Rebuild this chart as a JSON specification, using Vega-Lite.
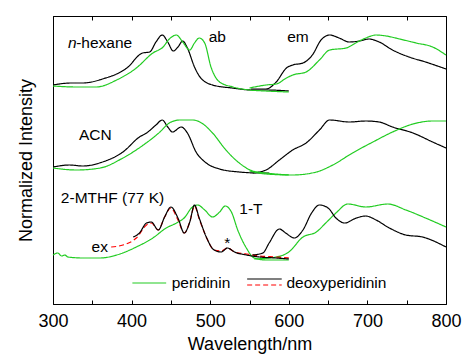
{
  "$schema": "https://vega.github.io/schema/vega-lite/v6.json",
  "width": 393,
  "height": 288,
  "autosize": "none",
  "padding": {"left": 53, "top": 16, "right": 19, "bottom": 51},
  "config": {
    "view": {"stroke": "#000", "strokeWidth": 1},
    "font": "Liberation Sans",
    "axis": {"labelFont": "Liberation Sans", "titleFont": "Liberation Sans", "labelFontSize": 18, "titleFontSize": 18, "titleFontWeight": "normal", "labelColor": "#000", "titleColor": "#000", "domainColor": "#000", "tickColor": "#000", "grid": false}
  },
  "datasets": {
    "curves": [
      {"s":"hex_ab_d","k":"deoxy","x":300,"y":220},{"s":"hex_ab_d","k":"deoxy","x":323,"y":222},{"s":"hex_ab_d","k":"deoxy","x":338,"y":222},{"s":"hex_ab_d","k":"deoxy","x":363,"y":226},{"s":"hex_ab_d","k":"deoxy","x":394,"y":237},{"s":"hex_ab_d","k":"deoxy","x":414,"y":252},{"s":"hex_ab_d","k":"deoxy","x":423,"y":253},{"s":"hex_ab_d","k":"deoxy","x":431,"y":263},{"s":"hex_ab_d","k":"deoxy","x":439,"y":270},{"s":"hex_ab_d","k":"deoxy","x":446,"y":263},{"s":"hex_ab_d","k":"deoxy","x":453,"y":254},{"s":"hex_ab_d","k":"deoxy","x":459,"y":258},{"s":"hex_ab_d","k":"deoxy","x":465,"y":264},{"s":"hex_ab_d","k":"deoxy","x":471,"y":257},{"s":"hex_ab_d","k":"deoxy","x":480,"y":238},{"s":"hex_ab_d","k":"deoxy","x":488,"y":227},{"s":"hex_ab_d","k":"deoxy","x":503,"y":220},{"s":"hex_ab_d","k":"deoxy","x":528,"y":217},{"s":"hex_ab_d","k":"deoxy","x":554,"y":215},{"s":"hex_ab_d","k":"deoxy","x":571,"y":215},{"s":"hex_ab_d","k":"deoxy","x":600,"y":214},
      {"s":"hex_ab_p","k":"per","x":300,"y":219},{"s":"hex_ab_p","k":"per","x":330,"y":218},{"s":"hex_ab_p","k":"per","x":355,"y":218},{"s":"hex_ab_p","k":"per","x":381,"y":225},{"s":"hex_ab_p","k":"per","x":406,"y":237},{"s":"hex_ab_p","k":"per","x":427,"y":252},{"s":"hex_ab_p","k":"per","x":440,"y":258},{"s":"hex_ab_p","k":"per","x":448,"y":266},{"s":"hex_ab_p","k":"per","x":457,"y":270},{"s":"hex_ab_p","k":"per","x":465,"y":263},{"s":"hex_ab_p","k":"per","x":474,"y":255},{"s":"hex_ab_p","k":"per","x":480,"y":262},{"s":"hex_ab_p","k":"per","x":486,"y":267},{"s":"hex_ab_p","k":"per","x":493,"y":262},{"s":"hex_ab_p","k":"per","x":501,"y":238},{"s":"hex_ab_p","k":"per","x":512,"y":223},{"s":"hex_ab_p","k":"per","x":529,"y":218},{"s":"hex_ab_p","k":"per","x":550,"y":215},{"s":"hex_ab_p","k":"per","x":571,"y":214},{"s":"hex_ab_p","k":"per","x":600,"y":213},
      {"s":"hex_em_d","k":"deoxy","x":552,"y":216},{"s":"hex_em_d","k":"deoxy","x":571,"y":216},{"s":"hex_em_d","k":"deoxy","x":584,"y":223},{"s":"hex_em_d","k":"deoxy","x":597,"y":237},{"s":"hex_em_d","k":"deoxy","x":605,"y":240},{"s":"hex_em_d","k":"deoxy","x":618,"y":242},{"s":"hex_em_d","k":"deoxy","x":630,"y":250},{"s":"hex_em_d","k":"deoxy","x":641,"y":265},{"s":"hex_em_d","k":"deoxy","x":652,"y":270},{"s":"hex_em_d","k":"deoxy","x":664,"y":267},{"s":"hex_em_d","k":"deoxy","x":677,"y":263},{"s":"hex_em_d","k":"deoxy","x":690,"y":264},{"s":"hex_em_d","k":"deoxy","x":702,"y":266},{"s":"hex_em_d","k":"deoxy","x":715,"y":263},{"s":"hex_em_d","k":"deoxy","x":732,"y":255},{"s":"hex_em_d","k":"deoxy","x":753,"y":248},{"s":"hex_em_d","k":"deoxy","x":774,"y":243},{"s":"hex_em_d","k":"deoxy","x":800,"y":236},
      {"s":"hex_em_p","k":"per","x":550,"y":217},{"s":"hex_em_p","k":"per","x":571,"y":220},{"s":"hex_em_p","k":"per","x":584,"y":221},{"s":"hex_em_p","k":"per","x":597,"y":227},{"s":"hex_em_p","k":"per","x":605,"y":230},{"s":"hex_em_p","k":"per","x":622,"y":233},{"s":"hex_em_p","k":"per","x":639,"y":245},{"s":"hex_em_p","k":"per","x":652,"y":255},{"s":"hex_em_p","k":"per","x":673,"y":257},{"s":"hex_em_p","k":"per","x":685,"y":262},{"s":"hex_em_p","k":"per","x":698,"y":267},{"s":"hex_em_p","k":"per","x":711,"y":270},{"s":"hex_em_p","k":"per","x":724,"y":269},{"s":"hex_em_p","k":"per","x":741,"y":266},{"s":"hex_em_p","k":"per","x":762,"y":262},{"s":"hex_em_p","k":"per","x":783,"y":258},{"s":"hex_em_p","k":"per","x":800,"y":250},
      {"s":"acn_ab_d","k":"deoxy","x":300,"y":138},{"s":"acn_ab_d","k":"deoxy","x":321,"y":140},{"s":"acn_ab_d","k":"deoxy","x":338,"y":139},{"s":"acn_ab_d","k":"deoxy","x":363,"y":143},{"s":"acn_ab_d","k":"deoxy","x":389,"y":153},{"s":"acn_ab_d","k":"deoxy","x":410,"y":168},{"s":"acn_ab_d","k":"deoxy","x":419,"y":172},{"s":"acn_ab_d","k":"deoxy","x":431,"y":180},{"s":"acn_ab_d","k":"deoxy","x":439,"y":185},{"s":"acn_ab_d","k":"deoxy","x":446,"y":178},{"s":"acn_ab_d","k":"deoxy","x":452,"y":173},{"s":"acn_ab_d","k":"deoxy","x":463,"y":178},{"s":"acn_ab_d","k":"deoxy","x":471,"y":172},{"s":"acn_ab_d","k":"deoxy","x":482,"y":153},{"s":"acn_ab_d","k":"deoxy","x":495,"y":142},{"s":"acn_ab_d","k":"deoxy","x":512,"y":136},{"s":"acn_ab_d","k":"deoxy","x":537,"y":133},{"s":"acn_ab_d","k":"deoxy","x":563,"y":132},{"s":"acn_ab_d","k":"deoxy","x":575,"y":132},
      {"s":"acn_em_d","k":"deoxy","x":554,"y":132},{"s":"acn_em_d","k":"deoxy","x":571,"y":135},{"s":"acn_em_d","k":"deoxy","x":588,"y":145},{"s":"acn_em_d","k":"deoxy","x":605,"y":155},{"s":"acn_em_d","k":"deoxy","x":622,"y":162},{"s":"acn_em_d","k":"deoxy","x":639,"y":175},{"s":"acn_em_d","k":"deoxy","x":652,"y":185},{"s":"acn_em_d","k":"deoxy","x":677,"y":183},{"s":"acn_em_d","k":"deoxy","x":698,"y":184},{"s":"acn_em_d","k":"deoxy","x":715,"y":183},{"s":"acn_em_d","k":"deoxy","x":732,"y":178},{"s":"acn_em_d","k":"deoxy","x":758,"y":172},{"s":"acn_em_d","k":"deoxy","x":783,"y":163},{"s":"acn_em_d","k":"deoxy","x":800,"y":157},
      {"s":"acn_ab_p","k":"per","x":300,"y":137},{"s":"acn_ab_p","k":"per","x":330,"y":135},{"s":"acn_ab_p","k":"per","x":360,"y":137},{"s":"acn_ab_p","k":"per","x":389,"y":147},{"s":"acn_ab_p","k":"per","x":415,"y":160},{"s":"acn_ab_p","k":"per","x":436,"y":173},{"s":"acn_ab_p","k":"per","x":448,"y":182},{"s":"acn_ab_p","k":"per","x":461,"y":185},{"s":"acn_ab_p","k":"per","x":478,"y":185},{"s":"acn_ab_p","k":"per","x":489,"y":182},{"s":"acn_ab_p","k":"per","x":503,"y":172},{"s":"acn_ab_p","k":"per","x":520,"y":155},{"s":"acn_ab_p","k":"per","x":537,"y":142},{"s":"acn_ab_p","k":"per","x":554,"y":134},{"s":"acn_ab_p","k":"per","x":571,"y":132},{"s":"acn_ab_p","k":"per","x":600,"y":130},
      {"s":"acn_em_p","k":"per","x":550,"y":134},{"s":"acn_em_p","k":"per","x":571,"y":131},{"s":"acn_em_p","k":"per","x":605,"y":130},{"s":"acn_em_p","k":"per","x":635,"y":133},{"s":"acn_em_p","k":"per","x":656,"y":140},{"s":"acn_em_p","k":"per","x":681,"y":152},{"s":"acn_em_p","k":"per","x":707,"y":163},{"s":"acn_em_p","k":"per","x":732,"y":173},{"s":"acn_em_p","k":"per","x":758,"y":181},{"s":"acn_em_p","k":"per","x":783,"y":184},{"s":"acn_em_p","k":"per","x":800,"y":184},
      {"s":"mt_ab_p","k":"per","x":300,"y":50},{"s":"mt_ab_p","k":"per","x":306,"y":52},{"s":"mt_ab_p","k":"per","x":311,"y":49},{"s":"mt_ab_p","k":"per","x":315,"y":50},{"s":"mt_ab_p","k":"per","x":319,"y":48},{"s":"mt_ab_p","k":"per","x":338,"y":47},{"s":"mt_ab_p","k":"per","x":360,"y":47},{"s":"mt_ab_p","k":"per","x":381,"y":50},{"s":"mt_ab_p","k":"per","x":406,"y":58},{"s":"mt_ab_p","k":"per","x":427,"y":67},{"s":"mt_ab_p","k":"per","x":444,"y":77},{"s":"mt_ab_p","k":"per","x":457,"y":82},{"s":"mt_ab_p","k":"per","x":468,"y":88},{"s":"mt_ab_p","k":"per","x":476,"y":97},{"s":"mt_ab_p","k":"per","x":484,"y":100},{"s":"mt_ab_p","k":"per","x":493,"y":95},{"s":"mt_ab_p","k":"per","x":503,"y":88},{"s":"mt_ab_p","k":"per","x":512,"y":93},{"s":"mt_ab_p","k":"per","x":519,"y":99},{"s":"mt_ab_p","k":"per","x":527,"y":93},{"s":"mt_ab_p","k":"per","x":535,"y":75},{"s":"mt_ab_p","k":"per","x":546,"y":57},{"s":"mt_ab_p","k":"per","x":556,"y":47},{"s":"mt_ab_p","k":"per","x":571,"y":45},{"s":"mt_ab_p","k":"per","x":600,"y":45},
      {"s":"mt_em_p","k":"per","x":556,"y":46},{"s":"mt_em_p","k":"per","x":584,"y":48},{"s":"mt_em_p","k":"per","x":600,"y":53},{"s":"mt_em_p","k":"per","x":618,"y":68},{"s":"mt_em_p","k":"per","x":635,"y":73},{"s":"mt_em_p","k":"per","x":647,"y":82},{"s":"mt_em_p","k":"per","x":660,"y":92},{"s":"mt_em_p","k":"per","x":675,"y":101},{"s":"mt_em_p","k":"per","x":698,"y":98},{"s":"mt_em_p","k":"per","x":726,"y":101},{"s":"mt_em_p","k":"per","x":749,"y":95},{"s":"mt_em_p","k":"per","x":774,"y":87},{"s":"mt_em_p","k":"per","x":800,"y":78},
      {"s":"mt_ex","k":"ex","x":374,"y":58},{"s":"mt_ex","k":"ex","x":389,"y":60},{"s":"mt_ex","k":"ex","x":406,"y":67},{"s":"mt_ex","k":"ex","x":419,"y":80},{"s":"mt_ex","k":"ex","x":425,"y":82},{"s":"mt_ex","k":"ex","x":434,"y":75},{"s":"mt_ex","k":"ex","x":442,"y":88},{"s":"mt_ex","k":"ex","x":450,"y":97},{"s":"mt_ex","k":"ex","x":459,"y":85},{"s":"mt_ex","k":"ex","x":467,"y":72},{"s":"mt_ex","k":"ex","x":474,"y":83},{"s":"mt_ex","k":"ex","x":480,"y":99},{"s":"mt_ex","k":"ex","x":486,"y":86},{"s":"mt_ex","k":"ex","x":495,"y":68},{"s":"mt_ex","k":"ex","x":505,"y":55},{"s":"mt_ex","k":"ex","x":514,"y":54},{"s":"mt_ex","k":"ex","x":522,"y":57},{"s":"mt_ex","k":"ex","x":531,"y":53},{"s":"mt_ex","k":"ex","x":546,"y":51},{"s":"mt_ex","k":"ex","x":563,"y":49},{"s":"mt_ex","k":"ex","x":584,"y":48},{"s":"mt_ex","k":"ex","x":600,"y":47},
      {"s":"mt_ab_d","k":"deoxy","x":402,"y":68},{"s":"mt_ab_d","k":"deoxy","x":410,"y":72},{"s":"mt_ab_d","k":"deoxy","x":419,"y":82},{"s":"mt_ab_d","k":"deoxy","x":425,"y":83},{"s":"mt_ab_d","k":"deoxy","x":434,"y":75},{"s":"mt_ab_d","k":"deoxy","x":442,"y":88},{"s":"mt_ab_d","k":"deoxy","x":450,"y":98},{"s":"mt_ab_d","k":"deoxy","x":459,"y":87},{"s":"mt_ab_d","k":"deoxy","x":467,"y":72},{"s":"mt_ab_d","k":"deoxy","x":474,"y":83},{"s":"mt_ab_d","k":"deoxy","x":480,"y":100},{"s":"mt_ab_d","k":"deoxy","x":486,"y":87},{"s":"mt_ab_d","k":"deoxy","x":495,"y":68},{"s":"mt_ab_d","k":"deoxy","x":505,"y":55},{"s":"mt_ab_d","k":"deoxy","x":514,"y":53},{"s":"mt_ab_d","k":"deoxy","x":522,"y":57},{"s":"mt_ab_d","k":"deoxy","x":531,"y":53},{"s":"mt_ab_d","k":"deoxy","x":546,"y":50},{"s":"mt_ab_d","k":"deoxy","x":563,"y":48},{"s":"mt_ab_d","k":"deoxy","x":584,"y":47},{"s":"mt_ab_d","k":"deoxy","x":600,"y":46},
      {"s":"mt_em_d","k":"deoxy","x":554,"y":50},{"s":"mt_em_d","k":"deoxy","x":567,"y":52},{"s":"mt_em_d","k":"deoxy","x":575,"y":62},{"s":"mt_em_d","k":"deoxy","x":588,"y":76},{"s":"mt_em_d","k":"deoxy","x":596,"y":72},{"s":"mt_em_d","k":"deoxy","x":607,"y":67},{"s":"mt_em_d","k":"deoxy","x":618,"y":75},{"s":"mt_em_d","k":"deoxy","x":629,"y":92},{"s":"mt_em_d","k":"deoxy","x":639,"y":100},{"s":"mt_em_d","k":"deoxy","x":650,"y":97},{"s":"mt_em_d","k":"deoxy","x":660,"y":87},{"s":"mt_em_d","k":"deoxy","x":671,"y":82},{"s":"mt_em_d","k":"deoxy","x":686,"y":87},{"s":"mt_em_d","k":"deoxy","x":698,"y":89},{"s":"mt_em_d","k":"deoxy","x":711,"y":85},{"s":"mt_em_d","k":"deoxy","x":728,"y":77},{"s":"mt_em_d","k":"deoxy","x":749,"y":70},{"s":"mt_em_d","k":"deoxy","x":770,"y":68},{"s":"mt_em_d","k":"deoxy","x":800,"y":58},
      {"s":"leg_p","k":"per","x":401,"y":22},{"s":"leg_p","k":"per","x":444,"y":22},
      {"s":"leg_d","k":"deoxy","x":547,"y":26},{"s":"leg_d","k":"deoxy","x":591,"y":26},
      {"s":"leg_e","k":"ex","x":547,"y":20},{"s":"leg_e","k":"ex","x":591,"y":20}
    ],
    "notes": [
      {"x":319,"y":262,"t":"n","i":1},
      {"x":329.5,"y":262,"t":"-hexane","i":0},
      {"x":498,"y":268,"t":"ab","i":0},
      {"x":598,"y":268,"t":"em","i":0},
      {"x":333,"y":170,"t":"ACN","i":0},
      {"x":310,"y":107,"t":"2-MTHF (77 K)","i":0},
      {"x":537,"y":96,"t":"1-T","i":0},
      {"x":349,"y":58,"t":"ex","i":0},
      {"x":518,"y":62,"t":"*","i":0},
      {"x":451,"y":22,"t":"peridinin","i":0},
      {"x":597,"y":22,"t":"deoxyperidinin","i":0}
    ]
  },
  "layer": [
    {
      "data": {"name": "curves"},
      "mark": {"type": "line", "interpolate": "monotone", "strokeWidth": 1.2},
      "encoding": {
        "x": {"field": "x", "type": "quantitative", "scale": {"domain": [300, 800], "nice": false},
              "axis": {"orient": "bottom", "title": "Wavelength/nm", "values": [300,350,400,450,500,550,600,650,700,750,800], "tickSize": -4, "labelExpr": "datum.value % 100 == 0 ? datum.label : ''", "labelPadding": 12, "titlePadding": 5, "labelFlush": false, "labelOverlap": false}},
        "y": {"field": "y", "type": "quantitative", "scale": {"domain": [1, 289], "nice": false},
              "axis": {"title": "Normalized Intensity", "labels": false, "ticks": false, "titlePadding": 18}},
        "detail": {"field": "s"},
        "color": {"field": "k", "type": "nominal", "scale": {"domain": ["per", "deoxy", "ex"], "range": ["#22cc22", "#000000", "#ff0000"]}, "legend": null},
        "strokeDash": {"field": "k", "type": "nominal", "scale": {"domain": ["per", "deoxy", "ex"], "range": [[1, 0], [1, 0], [5, 3]]}, "legend": null}
      }
    },
    {
      "data": {"name": "notes"},
      "transform": [{"filter": "datum.i == 0"}],
      "mark": {"type": "text", "align": "left", "baseline": "middle", "fontSize": 15.5, "font": "Liberation Sans", "color": "#000"},
      "encoding": {
        "x": {"field": "x", "type": "quantitative", "scale": {"domain": [300, 800], "nice": false},
              "axis": {"orient": "top", "title": null, "labels": false, "values": [300,350,400,450,500,550,600,650,700,750,800], "tickSize": -4}},
        "y": {"field": "y", "type": "quantitative", "scale": {"domain": [1, 289], "nice": false},
              "axis": {"title": "Normalized Intensity", "labels": false, "ticks": false, "titlePadding": 18}},
        "text": {"field": "t"}
      }
    },
    {
      "data": {"name": "notes"},
      "transform": [{"filter": "datum.i == 1"}],
      "mark": {"type": "text", "align": "left", "baseline": "middle", "fontSize": 15.5, "font": "Liberation Sans", "fontStyle": "italic", "color": "#000"},
      "encoding": {
        "x": {"field": "x", "type": "quantitative", "scale": {"domain": [300, 800], "nice": false}, "axis": null},
        "y": {"field": "y", "type": "quantitative", "scale": {"domain": [1, 289], "nice": false},
              "axis": {"title": "Normalized Intensity", "labels": false, "ticks": false, "titlePadding": 18}},
        "text": {"field": "t"}
      }
    }
  ],
  "resolve": {"axis": {"x": "independent"}}
}
